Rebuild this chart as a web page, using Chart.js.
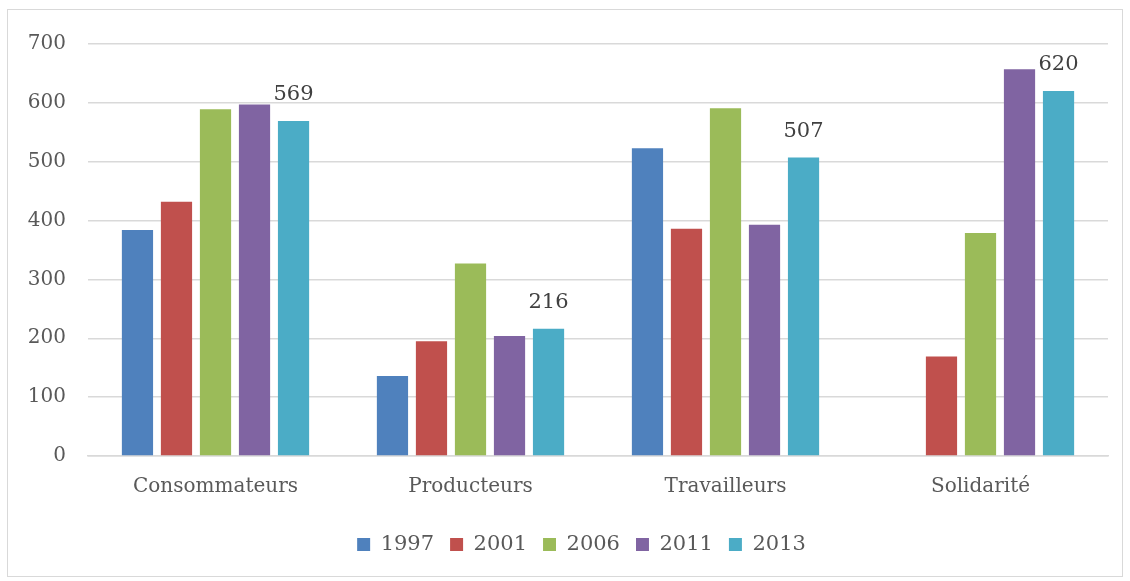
<!DOCTYPE html>
<html>
<head>
<meta charset="utf-8">
<script src="https://cdn.jsdelivr.net/npm/chart.js@4"></script>
<style>
  html, body { margin: 0; padding: 0; background: #fff; }
  #frame {
    position: absolute; left: 7px; top: 9px;
    width: 1114px; height: 566px;
    border: 1.5px solid #d9d9d9;
  }
  #chart { display: block; }
</style>
</head>
<body>
<div id="frame"><canvas id="chart" width="1114" height="566"></canvas></div>
<script>
const categories = ["Consommateurs", "Producteurs", "Travailleurs", "Solidarité"];
const years = ["1997", "2001", "2006", "2011", "2013"];
const values1997 = [384, 136, 523, null];
const values2001 = [432, 195, 386, 169];
const values2006 = [589, 327, 591, 379];
const values2011 = [597, 204, 393, 657];
const values2013 = [569, 216, 507, 620];
const yTicks = [0, 100, 200, 300, 400, 500, 600, 700];
const colors = ["#4F81BD", "#C0504D", "#9BBB59", "#8064A2", "#4BACC6"];

const allValues = [values1997, values2001, values2006, values2011, values2013];
const FONT = "'DejaVu Serif', serif";

// labels only on the last series, like the original
const lastLabels = {
    id: "lastLabels",
    afterDatasetsDraw(chart) {
        const ctx = chart.ctx;
        const idx = chart.data.datasets.length - 1;
        const meta = chart.getDatasetMeta(idx);
        ctx.save();
        ctx.font = "21px " + FONT;
        ctx.fillStyle = "#404040";
        ctx.textAlign = "center";
        ctx.textBaseline = "bottom";
        meta.data.forEach((bar, i) => {
            const v = chart.data.datasets[idx].data[i];
            if (v == null) return;
            ctx.fillText(v, bar.x, bar.y - 16);
        });
        ctx.restore();
    }
};

// the legend sits a bit right of the canvas centre in the original
const legendShift = {
    id: "legendShift",
    afterLayout(chart) {
        if (chart.legend) chart.legend.left += 47;
    }
};

const ctx = document.getElementById("chart").getContext("2d");
new Chart(ctx, {
    type: "bar",
    data: {
        labels: categories,
        datasets: years.map((y, i) => ({
            label: y,
            data: allValues[i],
            backgroundColor: colors[i],
            borderWidth: 0,
            barPercentage: 0.8,
            categoryPercentage: 0.765
        }))
    },
    options: {
        responsive: false,
        animation: false,
        layout: { padding: { top: 24, right: 14, left: 0, bottom: 11 } },
        plugins: {
            legend: {
                position: "bottom",
                labels: {
                    font: { family: FONT, size: 21 },
                    color: "#595959",
                    boxWidth: 13,
                    boxHeight: 13,
                    padding: 16
                }
            },
            tooltip: { enabled: false }
        },
        scales: {
            x: {
                grid: { display: false, drawTicks: false },
                border: { color: "#d9d9d9", width: 1.5 },
                ticks: { font: { family: FONT, size: 20 }, color: "#595959", padding: 19 }
            },
            y: {
                min: 0,
                max: 700,
                afterFit: s => { s.width = 80; },
                afterBuildTicks: s => { s.ticks = yTicks.map(v => ({ value: v })); },
                grid: { color: "#d9d9d9", lineWidth: 1.5, drawTicks: false },
                border: { display: false },
                ticks: { font: { family: FONT, size: 20 }, color: "#595959", padding: 22 }
            }
        }
    },
    plugins: [lastLabels, legendShift]
});
</script>
</body>
</html>
